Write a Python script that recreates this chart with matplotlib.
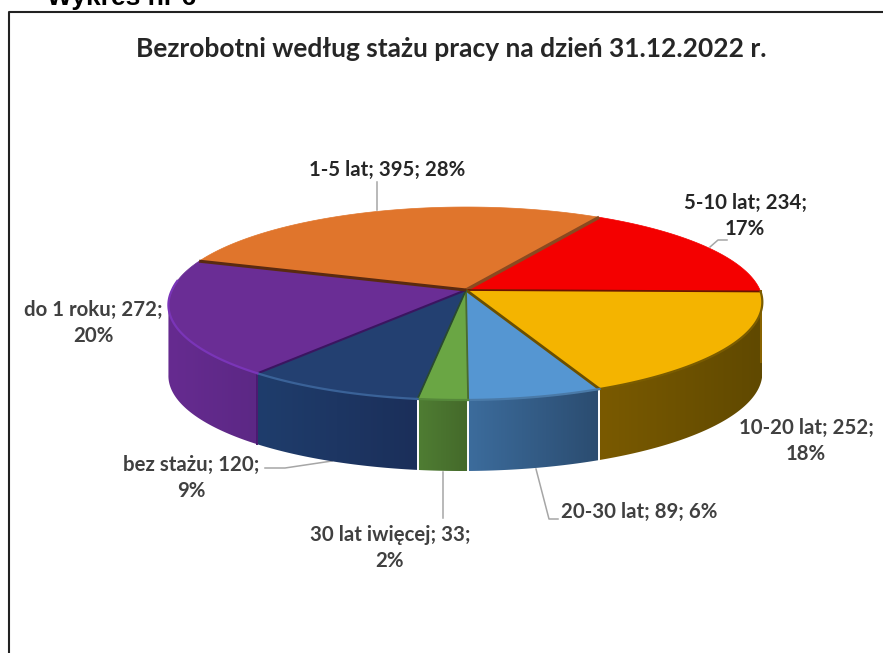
import matplotlib
matplotlib.use("Agg")
import matplotlib.pyplot as plt
import matplotlib.colors as mcolors
from matplotlib.patches import Polygon
import numpy as np

# data, clockwise from the 5-10 lat slice
names = ["5-10 lat", "10-20 lat", "20-30 lat", "30 lat iwięcej", "bez stażu", "do 1 roku", "1-5 lat"]
values = [234, 252, 89, 33, 120, 272, 395]
percents = [17, 18, 6, 2, 9, 20, 28]

title = "Bezrobotni według stażu pracy na dzień 31.12.2022 r."
header = "Wykres nr 6"

top_colors = ["#f40000", "#f4b400", "#5596d2", "#6aa644", "#234071", "#6a2d95", "#e0752c"]
edge_colors = ["#7a1000", "#7a5c00", "#4a7aa8", "#55883a", "#3a6298", "#7a35b8", "#5a3010"]
wall_left = ["#7a0000", "#7a5a00", "#3c6c9c", "#4f7d33", "#1f3d6c", "#662b90", "#8a4518"]
wall_right = ["#7a0000", "#604900", "#2b4c70", "#44692a", "#1b2f5a", "#5c2885", "#8a4518"]

# chart geometry in pixels of the 883x653 picture
cx, cy = 466, 290
rx, ry = 294, 94.6
persp = 0.14
depth = 71
start_angle = 59.5
skew = 4.5


def project(theta):
    u = np.cos(theta)
    v = np.sin(theta)
    w = 1 + persp * v
    return cx + rx * u / w + skew * np.minimum(v, 0), cy - ry * v / w


fig = plt.figure(figsize=(8.83, 6.53), dpi=100)
ax = fig.add_axes([0, 0, 1, 1])

# chart frame, only top and left are inside the picture
ax.plot([8.5, 8.5, 900], [660, 11.5, 11.5], color="#222222", lw=1.5)

total = sum(values)
bounds = start_angle - np.concatenate([[0], np.cumsum(values)]) / total * 360

# side walls first, they start where the rim is widest
for i in range(len(values)):
    th = np.radians(np.linspace(bounds[i], bounds[i + 1], 200))
    th = th[np.sin(th) < -persp]
    if len(th) < 2:
        continue
    x, y = project(th)
    c0 = np.array(mcolors.to_rgb(wall_left[i]))
    c1 = np.array(mcolors.to_rgb(wall_right[i]))
    grad = np.linspace(c0, c1, 64)[np.newaxis, :, :]
    im = ax.imshow(grad, extent=[x.min(), x.max(), y.max() + depth, y.min()],
                   aspect="auto", zorder=2)
    clip = Polygon(np.c_[np.r_[x, x[::-1]], np.r_[y, y[::-1] + depth]], transform=ax.transData)
    im.set_clip_path(clip)

ax.set_xlim(0, 883)
ax.set_ylim(653, 0)
ax.axis("off")

# seams between the walls
for i, col in [(1, "#8a6400"), (2, "#ffffff"), (3, "#ffffff"), (4, "#ffffff"), (5, "#4a1a70")]:
    x, y = project(np.radians(bounds[i]))
    ax.plot([x, x], [y, y + depth], color=col, lw=1.4, zorder=3)

# slice tops
for i in range(len(values)):
    th = np.radians(np.linspace(bounds[i], bounds[i + 1], 120))
    x, y = project(th)
    ax.fill(np.r_[cx, x], np.r_[cy, y], color=top_colors[i], lw=0.5, zorder=4)

# dark lines between slices
line_colors = ["#8a4a20", "#6b1500", "#6b4f00", "#4a6a30", "#2a4a30", "#3a1560", "#5a2a10"]
line_widths = [2.4, 1.3, 2.0, 1.3, 1.3, 1.5, 2.2]
for i in range(len(values)):
    x, y = project(np.radians(bounds[i]))
    ax.plot([cx, x], [cy, y], color=line_colors[i], lw=line_widths[i], zorder=5,
            solid_capstyle="butt")

# lit bevel on the front rim
for i in range(1, len(values)):
    th = np.radians(np.linspace(bounds[i], bounds[i + 1], 120))
    th = th[np.sin(th) < 0.1]
    if len(th) < 2:
        continue
    x, y = project(th)
    ax.plot(x, y, color=edge_colors[i], lw=1.6, zorder=5)

# leader lines
leaders = [
    ([377, 377], [182, 210]),
    ([710, 718, 727], [247, 240, 240]),
    ([265, 285, 332], [468, 468, 461]),
    ([443, 443], [472, 518]),
    ([536, 549, 558], [469, 519, 519]),
]
for lx, ly in leaders:
    ax.plot(lx, ly, color="#a6a6a6", lw=1.1, zorder=1)

# labels, each one placed by hand like in the original
breaks = [True, True, False, True, True, True, False]
label_x = [745, 806, 639, 390, 191, 93, 387]
label_y = [216, 441, 512, 548, 478, 323, 170]
label_col = ["#262626", "#404040", "#404040", "#404040", "#404040", "#404040", "#262626"]
for i in range(len(names)):
    sep = "\n" if breaks[i] else " "
    s = f"{names[i]}; {values[i]};{sep}{percents[i]}%"
    ax.text(label_x[i], label_y[i], s, ha="center", va="center", family="Lato",
            fontweight="bold", fontsize=14.7, color=label_col[i], linespacing=1.4, zorder=6)

ax.text(451, 49, title, ha="center", va="center", family="Lato", fontweight="bold",
        fontsize=19, color="#262626")
ax.text(47, 5, header, ha="left", va="baseline", family="Liberation Sans", fontweight="bold",
        fontsize=19, color="black")

fig.savefig("out.png", dpi=100)
